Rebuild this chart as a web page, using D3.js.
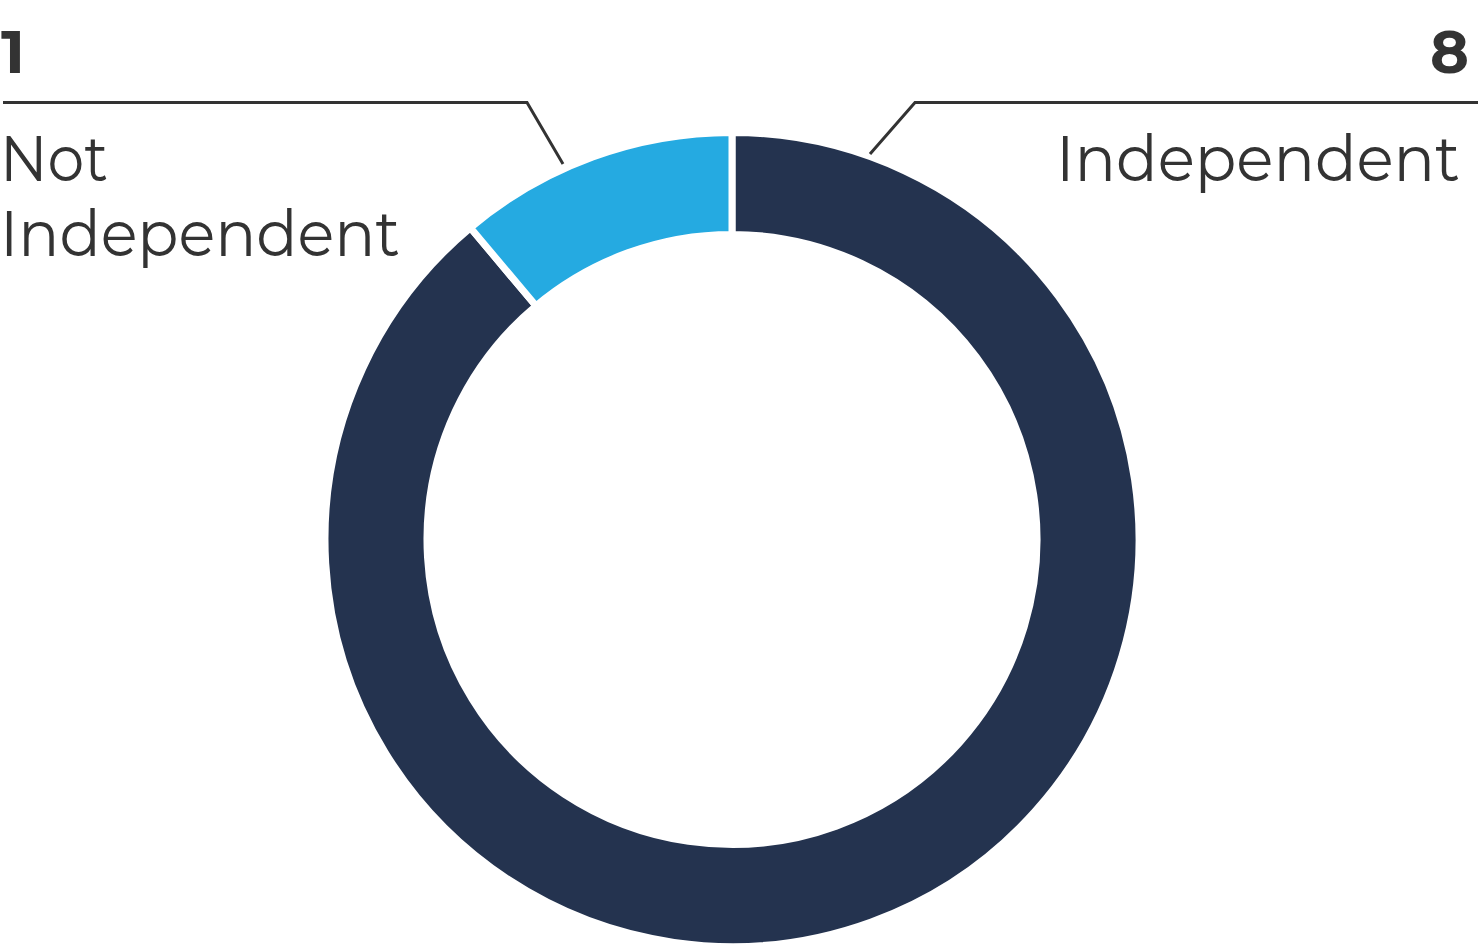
<!DOCTYPE html>
<html><head><meta charset="utf-8">
<script src="https://cdn.jsdelivr.net/npm/d3@7"></script>
<style>html,body{margin:0;padding:0;background:#fff;}</style>
</head><body>
<svg id="chart" width="1483" height="951"></svg>
<script>
const categories = ["Independent", "Not Independent"];
const values = [8, 1];
const colors = ["#24334f", "#25aae1"];

const svg = d3.select("#chart");
const cx = 732, cy = 539.5, outerR = 407, innerR = 305;

const pie = d3.pie().sort(null).value(d => d.value);
const arcs = pie(categories.map((c, i) => ({name: c, value: values[i], color: colors[i]})));
const arc = d3.arc().innerRadius(innerR).outerRadius(outerR);

const g = svg.append("g").attr("transform", `translate(${cx},${cy})`);
g.selectAll("path").data(arcs).enter().append("path")
  .attr("d", arc)
  .attr("fill", d => d.data.color)
  .attr("stroke", "#fff")
  .attr("stroke-width", 7)
  .attr("stroke-linejoin", "miter");

// leader lines
const lineColor = "#333333";
svg.append("polyline")
  .attr("points", "3,102.5 527,102.5 563,164")
  .attr("fill", "none").attr("stroke", lineColor).attr("stroke-width", 3);
svg.append("polyline")
  .attr("points", "1478,102.5 915,102.5 870,154")
  .attr("fill", "none").attr("stroke", lineColor).attr("stroke-width", 3);

const font = "Montserrat, Lato, 'Open Sans', sans-serif";
function txt(x, y, s, opts) {
  const t = svg.append("text").attr("x", x).attr("y", y).text(s)
    .attr("font-family", font).attr("fill", "#333333")
    .attr("font-size", opts.size).attr("font-weight", opts.weight || 400)
    .attr("text-anchor", opts.anchor || "start");
  if (opts.len) t.attr("textLength", opts.len).attr("lengthAdjust", "spacingAndGlyphs");
  return t;
}
// values
txt(1, 73, String(values[1]), {size: 60, weight: 700, len: 24});
txt(1469, 73, String(values[0]), {size: 60, weight: 700, anchor: "end", len: 39});
// labels
txt(0, 181, "Not", {size: 63, weight: 400, len: 108});
txt(0, 256, "Independent", {size: 63, weight: 400, len: 400});
txt(1460, 181, "Independent", {size: 63, weight: 400, anchor: "end", len: 404});
</script>
</body></html>
